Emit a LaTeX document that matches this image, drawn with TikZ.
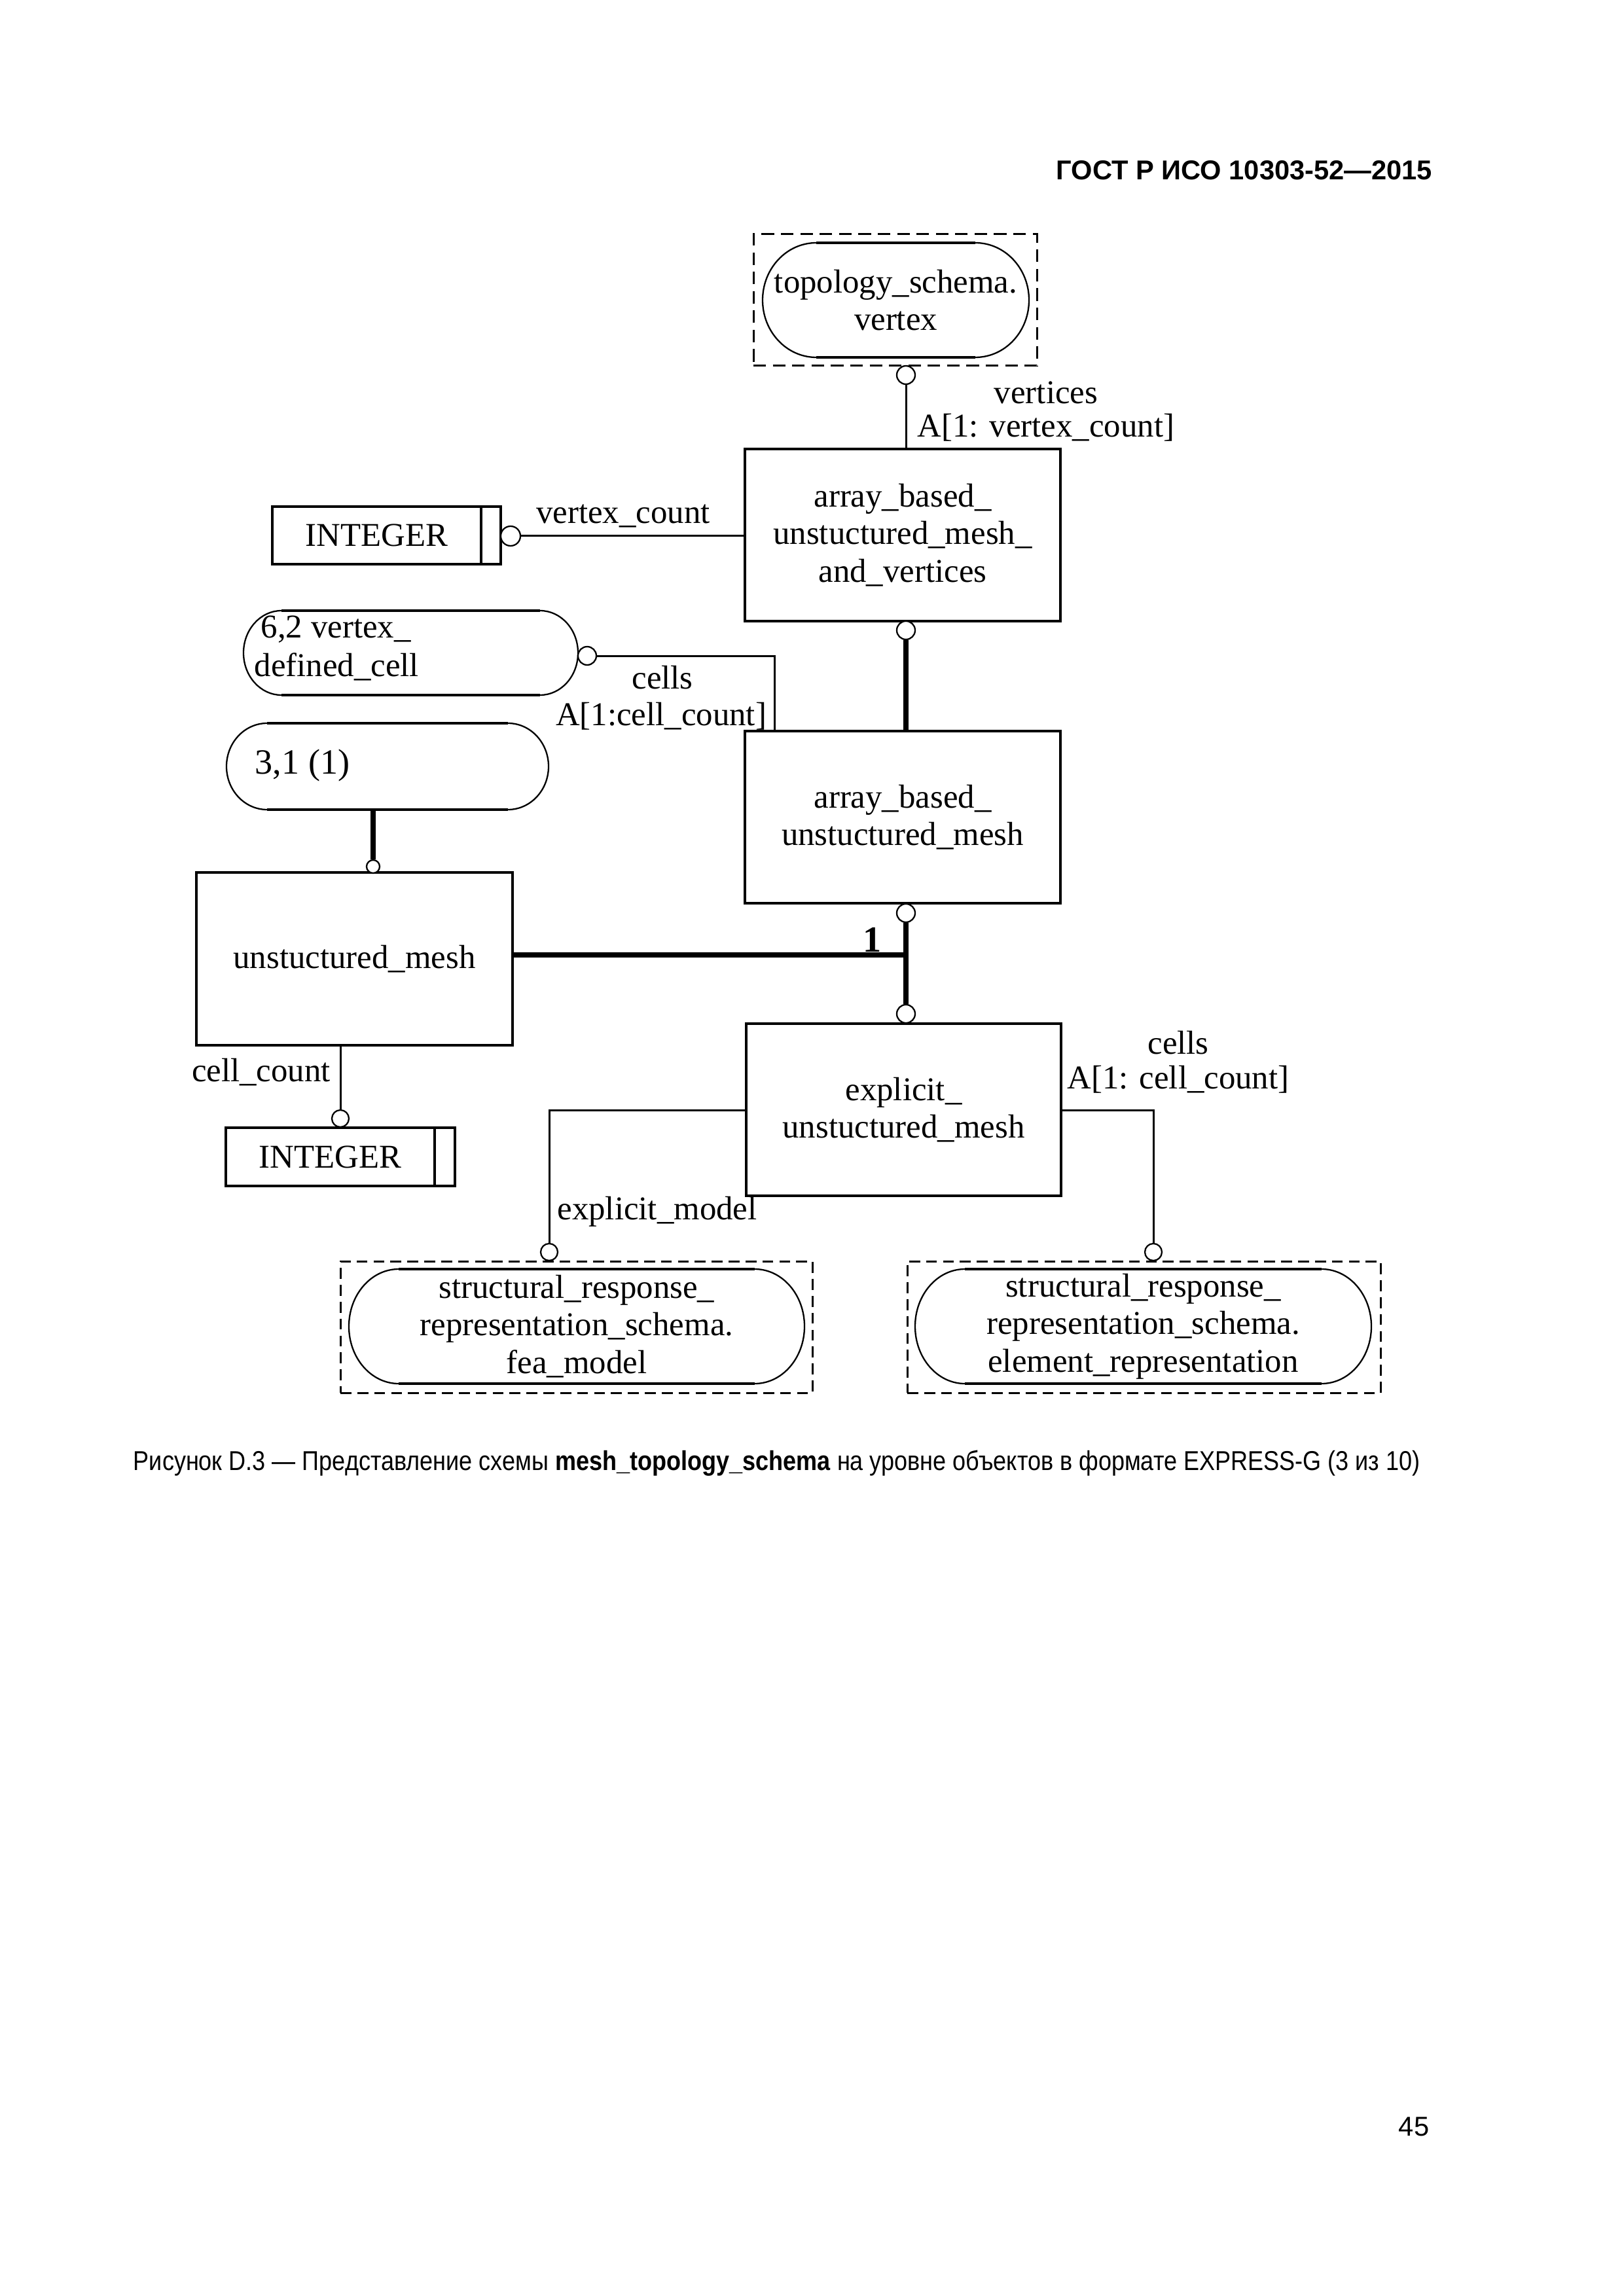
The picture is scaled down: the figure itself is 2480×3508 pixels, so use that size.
\documentclass[tikz,border=0pt]{standalone}
\usepackage{fontspec}
\setmainfont{Liberation Serif}
\newfontfamily\arialf{Liberation Sans}
\newfontfamily\arialn[FakeStretch=0.865]{Liberation Sans}
\usetikzlibrary{fit}
\newcommand{\dfont}{\fontsize{12.2}{13.8}\selectfont}
\begin{document}
\begin{tikzpicture}[x=0.24pt,y=-0.24pt,
  ent/.style={draw, line width=0.84pt, inner sep=0pt},
  ovl/.style={inner sep=0pt, align=center, font=\dfont},
  lbl/.style={inner sep=0pt, font=\dfont, anchor=base},
  circ/.style={circle, draw, line width=0.55pt, fill=white, inner sep=0pt, minimum size=6.72pt},
  conn/.style={line width=0.72pt},
  thickc/.style={line width=2pt},
  dbox/.style={draw, line width=0.72pt, inner sep=0pt, dash pattern=on 4.6pt off 2.5pt},
  arcl/.style={line width=0.55pt},
  flat/.style={line width=0.95pt},
]
\useasboundingbox (0,0) rectangle (2480,3508);

% header, caption, page number
\node[font=\arialf\bfseries\fontsize{10}{12}\selectfont, anchor=base east, inner sep=0pt] (hdr) at (2189,275) {ГОСТ Р ИСО 10303-52—2015};
\node[font=\arialn\fontsize{10}{12}\selectfont, anchor=base west, inner sep=0pt] (cap) at (203,2246) {Рисунок D.3 — Представление схемы \textbf{mesh\_topology\_schema} на уровне объектов в формате EXPRESS-G (3 из 10)};
\node[font=\arialf\fontsize{10}{12}\selectfont, anchor=base east, inner sep=0pt] (pg) at (2184,3263) {45};

% entities
\node[ent, fit={(1138,686) (1620,949)}] (A) {};
\node[ovl] (At) at (A.center) {array\_based\_\\unstuctured\_mesh\_\\and\_vertices};
\node[ent, fit={(1138,1117) (1620,1380)}] (B) {};
\node[ovl] (Bt) at (B.center) {array\_based\_\\unstuctured\_mesh};
\node[ent, fit={(1140,1564) (1621,1827)}] (C) {};
\node[ovl] (Ct) at (C.center) {explicit\_\\unstuctured\_mesh};
\node[ent, fit={(300,1333) (783,1597)}] (D) {};
\node[ovl] (Dt) at (D.center) {unstuctured\_mesh};

% INTEGER boxes
\node[ent, fit={(416,774) (735,862)}] (int1) {};
\node[ovl] (int1t) at (int1.center) {INTEGER};
\node[ent, fit={(735,774) (765,862)}] (int1b) {};
\node[ent, fit={(345,1723) (664,1812)}] (int2) {};
\node[ovl] (int2t) at (int2.center) {INTEGER};
\node[ent, fit={(664,1723) (695,1812)}] (int2b) {};

% topology_schema.vertex
\node[dbox, fit={(1151,358) (1584,559)}] (tsvd) {};
\node[inner sep=0pt, fit={(1165,371) (1572,546)}] (tsv) {};
\node[ovl] (tsvt) at (tsv.center) {topology\_schema.\\vertex};
\draw[arcl] (1247,371) -- (1490,371) arc[start angle=90, end angle=-90, x radius=19.68pt, y radius=21pt] -- (1247,546) arc[start angle=270, end angle=90, x radius=19.68pt, y radius=21pt] -- cycle;
\draw[flat] (1247,371) -- (1490,371) (1247,546) -- (1490,546);

% 6,2 vertex_defined_cell
\node[inner sep=0pt, fit={(372,933) (883,1062)}] (o62) {};
\draw[arcl] (430,933) -- (825,933) arc[start angle=90, end angle=-90, x radius=13.92pt, y radius=15.48pt] -- (430,1062) arc[start angle=270, end angle=90, x radius=13.92pt, y radius=15.48pt] -- cycle;
\draw[flat] (430,933) -- (825,933) (430,1062) -- (825,1062);
\node[lbl, anchor=base west] (t62a) at (398,975) {6,2 vertex\_};
\node[lbl, anchor=base west] (t62b) at (388,1033) {defined\_cell};

% 3,1 (1)
\node[inner sep=0pt, fit={(346,1105) (838,1237)}] (o31) {};
\draw[arcl] (408,1105) -- (776,1105) arc[start angle=90, end angle=-90, x radius=14.88pt, y radius=15.84pt] -- (408,1237) arc[start angle=270, end angle=90, x radius=14.88pt, y radius=15.84pt] -- cycle;
\draw[flat] (408,1105) -- (776,1105) (408,1237) -- (776,1237);
\node[lbl, anchor=base west, font=\fontsize{13}{14}\selectfont] (t31) at (389,1182) {3,1 (1)};

% fea_model
\node[dbox, dash pattern=on 4pt off 2.2pt, fit={(520,1927) (1241,2128)}] (fead) {};
\node[inner sep=0pt, fit={(533,1939) (1229,2114)}] (fea) {};
\node[ovl] (feat) at (fea.center) {structural\_response\_\\representation\_schema.\\fea\_model};
\draw[arcl] (609,1939) -- (1153,1939) arc[start angle=90, end angle=-90, x radius=18.24pt, y radius=21pt] -- (609,2114) arc[start angle=270, end angle=90, x radius=18.24pt, y radius=21pt] -- cycle;
\draw[flat] (609,1939) -- (1153,1939) (609,2114) -- (1153,2114);

% element_representation
\node[dbox, dash pattern=on 4pt off 2.2pt, fit={(1386,1927) (2109,2128)}] (elemd) {};
\node[inner sep=0pt, fit={(1398,1939) (2095,2114)}] (elem) {};
\node[ovl] (elemt) at (elem.center) {structural\_response\_\\representation\_schema.\\element\_representation};
\draw[arcl] (1474,1939) -- (2019,1939) arc[start angle=90, end angle=-90, x radius=18.24pt, y radius=21pt] -- (1474,2114) arc[start angle=270, end angle=90, x radius=18.24pt, y radius=21pt] -- cycle;
\draw[flat] (1474,1939) -- (2019,1939) (1474,2114) -- (2019,2114);

% circles
\node[circ] (c1) at (1384,573) {};
\node[circ, minimum size=7.2pt] (ci1) at (780,819) {};
\node[circ] (cA) at (1384,963) {};
\node[circ] (c62) at (897,1002) {};
\node[circ, minimum size=4.8pt] (c31) at (570,1324) {};
\node[circ] (cB) at (1384,1395) {};
\node[circ] (cC) at (1384,1549) {};
\node[circ, minimum size=6.24pt] (cI2) at (520,1709) {};
\node[circ, minimum size=6.24pt] (cF) at (839,1913) {};
\node[circ, minimum size=6.24pt] (cE) at (1762,1913) {};

% connectors
\draw[conn] (c1.south) -- (c1.south |- A.north);
\draw[conn] (ci1.east) -- (ci1.east -| A.west);
\draw[thickc] (cA.south) -- (cA.south |- B.north);
\coordinate (k62) at (1183,1002);
\draw[conn] (c62.east) -- (k62) -- (k62 |- B.north);
\draw[thickc] (c31.north |- o31.south) -- (c31.north);
\draw[thickc] (cB.south) -- (cC.north);
\coordinate (jn) at (1384,1459);
\draw[thickc] (D.east |- jn) -- (jn);
\draw[conn] (cI2.north |- D.south) -- (cI2.north);
\coordinate (kf) at (839,1696);
\draw[conn] (C.west |- kf) -- (kf) -- (cF.north);
\coordinate (ke) at (1762,1696);
\draw[conn] (C.east |- ke) -- (ke) -- (cE.north);

% labels
\node[lbl] (l1) at (1598,617) {vertices};
\node[lbl] (l2) at (1598,668) {A[1: vertex\_count]};
\node[lbl] (l3) at (952,800) {vertex\_count};
\node[lbl] (l4) at (1012,1052) {cells};
\node[lbl] (l5) at (1010,1108) {A[1:cell\_count]};
\node[lbl] (l6) at (399,1652) {cell\_count};
\node[lbl] (l7) at (1004,1863) {explicit\_model};
\node[lbl] (l8) at (1800,1610) {cells};
\node[lbl] (l9) at (1800,1663) {A[1: cell\_count]};
\node[inner sep=0pt, anchor=base east, font=\fontsize{13.5}{14}\selectfont\bfseries] (one) at (1347,1454) {1};
\end{tikzpicture}
\end{document}
